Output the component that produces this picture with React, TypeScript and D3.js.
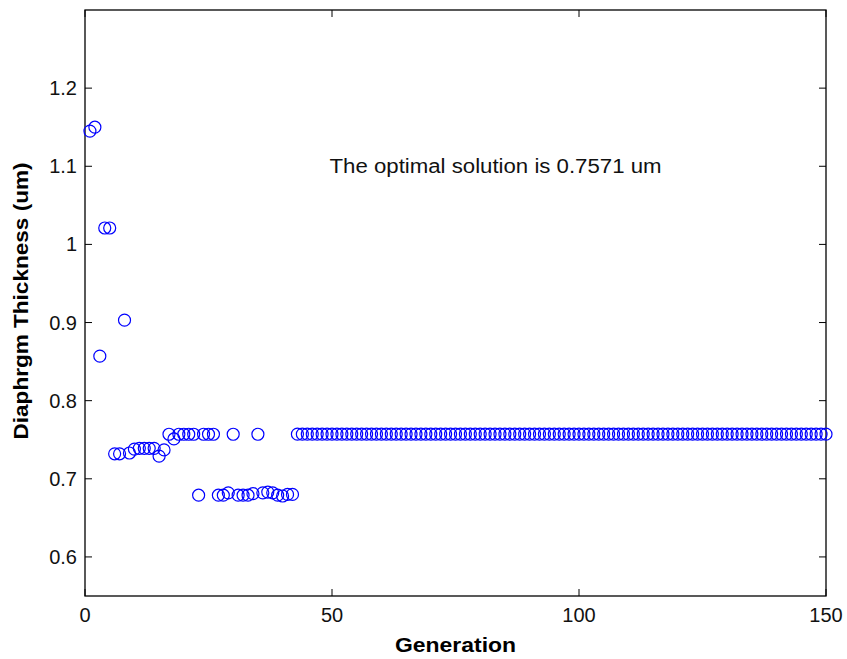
import React, { useEffect, useRef } from "react";
import * as d3 from "d3";

// generation number of each point (1..150)
const generations = d3.range(1, 151);

// best thickness found in each generation
const earlyThickness = [
  1.145, 1.15, 0.857, 1.021, 1.021, 0.732, 0.732, 0.903, 0.733, 0.738,
  0.739, 0.739, 0.739, 0.739, 0.729, 0.737, 0.757, 0.751, 0.757, 0.757,
  0.757, 0.757, 0.679, 0.757, 0.757, 0.757, 0.679, 0.679, 0.682, 0.757,
  0.679, 0.679, 0.679, 0.681, 0.757, 0.682, 0.683, 0.682, 0.679, 0.678,
  0.68, 0.68,
];
const convergedValue = 0.7571;
const thickness = generations.map((g, i) =>
  i < earlyThickness.length ? earlyThickness[i] : convergedValue
);

const xTicks = [0, 50, 100, 150];
const yTicks = [0.6, 0.7, 0.8, 0.9, 1, 1.1, 1.2];
const annotation = "The optimal solution is 0.7571 um";

const W = 847, H = 659;
const margin = { top: 10, right: 21, bottom: 63, left: 85 };

export default function App() {
  const ref = useRef<SVGSVGElement>(null);

  useEffect(() => {
    const svg = d3.select(ref.current);
    svg.selectAll("*").remove();
    const w = W - margin.left - margin.right;
    const h = H - margin.top - margin.bottom;

    const x = d3.scaleLinear().domain([0, 150]).range([0, w]);
    const y = d3.scaleLinear().domain([0.55, 1.3]).range([h, 0]);

    const g = svg.append("g").attr("transform", `translate(${margin.left},${margin.top})`);
    const font = "'Liberation Sans', Arial, sans-serif";

    // box
    g.append("rect").attr("width", w).attr("height", h)
      .attr("fill", "white").attr("stroke", "black").attr("stroke-width", 1.3);

    // ticks, inward on all four sides like matlab
    const tl = 7;
    xTicks.forEach(t => {
      g.append("line").attr("x1", x(t)).attr("x2", x(t)).attr("y1", h).attr("y2", h - tl).attr("stroke", "black");
      g.append("line").attr("x1", x(t)).attr("x2", x(t)).attr("y1", 0).attr("y2", tl).attr("stroke", "black");
      g.append("text").attr("x", x(t)).attr("y", h + 26).attr("text-anchor", "middle")
        .attr("font-family", font).attr("font-size", 20).attr("fill", "#111").text(t);
    });
    yTicks.forEach(t => {
      g.append("line").attr("x1", 0).attr("x2", tl).attr("y1", y(t)).attr("y2", y(t)).attr("stroke", "black");
      g.append("line").attr("x1", w).attr("x2", w - tl).attr("y1", y(t)).attr("y2", y(t)).attr("stroke", "black");
      g.append("text").attr("x", -8).attr("y", y(t)).attr("dy", "0.35em").attr("text-anchor", "end")
        .attr("font-family", font).attr("font-size", 20).attr("fill", "#111").text(d3.format("~g")(t));
    });

    // points
    g.selectAll("circle.pt")
      .data(generations.map((gen, i) => ({ gen, v: thickness[i] })))
      .join("circle")
      .attr("class", "pt")
      .attr("cx", d => x(d.gen))
      .attr("cy", d => y(d.v))
      .attr("r", 6)
      .attr("fill", "none")
      .attr("stroke", "#0000ff")
      .attr("stroke-width", 1.2);

    // annotation
    g.append("text").attr("x", x(49.5)).attr("y", y(1.1)).attr("dy", "0.35em")
      .attr("font-family", font).attr("font-size", 20).attr("fill", "#111")
      .attr("textLength", 332).attr("lengthAdjust", "spacingAndGlyphs")
      .text(annotation);

    // axis labels
    g.append("text").attr("x", w / 2).attr("y", h + 56).attr("text-anchor", "middle")
      .attr("font-family", font).attr("font-size", 20).attr("font-weight", "bold")
      .attr("textLength", 121).attr("lengthAdjust", "spacingAndGlyphs")
      .text("Generation");
    g.append("text").attr("transform", `translate(${-57},${h / 2 - 2}) rotate(-90)`)
      .attr("text-anchor", "middle")
      .attr("font-family", font).attr("font-size", 20).attr("font-weight", "bold")
      .attr("textLength", 277).attr("lengthAdjust", "spacingAndGlyphs")
      .text("Diaphrgm Thickness (um)");
  }, []);

  return (
    <svg ref={ref} width={W} height={H}
      style={{ position: "absolute", left: 0, top: 0, background: "white" }} />
  );
}
